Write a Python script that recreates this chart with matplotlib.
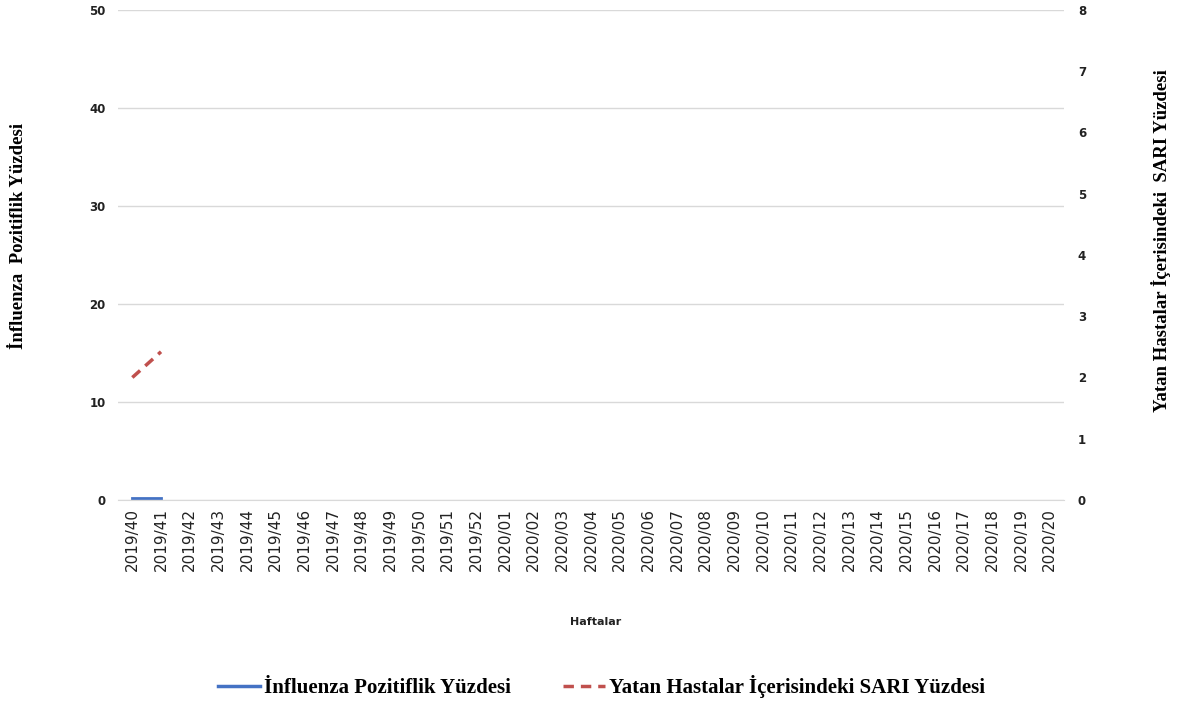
import matplotlib.pyplot as plt
from matplotlib.lines import Line2D

# haftalar
weeks = ['2019/%d' % w for w in range(40, 53)] + ['2020/%02d' % w for w in range(1, 21)]

# veriler (sadece ilk iki hafta mevcut)
influenza_pct = [0.2, 0.2]
sari_pct = [2.0, 2.42]

blue = '#4472C4'
red = '#C0504D'

fig = plt.figure(figsize=(11.8, 7.04), dpi=100)
ax = fig.add_axes([0.1, 0.2898, 0.8017, 0.696])
ax2 = ax.twinx()

x = list(range(len(weeks)))
ax.plot(x[:len(influenza_pct)], influenza_pct, color=blue, lw=2)
ax2.plot(x[:len(sari_pct)], sari_pct, color=red, lw=2.5, linestyle=(0, (3, 2)))

ax.set_xlim(-0.5, len(weeks) - 0.5)
ax.set_ylim(0, 50)
ax.set_yticks(range(0, 51, 10))
ax2.set_ylim(0, 8)
ax2.set_yticks(range(0, 9))

ax.set_xticks(x)
ax.set_xticklabels(weeks, rotation=90, fontsize=11, color='#222222')
ax.grid(axis='y', color='#d9d9d9', lw=1)
ax.set_axisbelow(True)

for a in (ax, ax2):
    for s in a.spines.values():
        s.set_visible(False)
    a.tick_params(length=0)
ax.spines['bottom'].set_visible(True)
ax.spines['bottom'].set_color('#d9d9d9')

for lab in ax.get_yticklabels() + ax2.get_yticklabels():
    lab.set_fontsize(8.5)
    lab.set_fontweight('bold')
    lab.set_color('#222222')
ax.tick_params(axis='y', pad=9)
ax2.tick_params(axis='y', pad=10)
ax.tick_params(axis='x', pad=6)

serif = {'family': 'Liberation Serif', 'weight': 'bold', 'size': 13.5}
fig.text(0.016, 0.665, 'İnfluenza  Pozitiflik Yüzdesi', rotation=90, ha='center', va='center', fontdict=serif)
fig.text(0.984, 0.658, 'Yatan Hastalar İçerisindeki  SARI Yüzdesi', rotation=90, ha='center', va='center', fontdict=serif)
fig.text(0.505, 0.117, 'Haftalar', ha='center', va='center', fontsize=8, fontweight='bold', color='#222222')

handles = [Line2D([], [], color=blue, lw=2.5),
           Line2D([], [], color=red, lw=2.5, linestyle=(0, (3, 2)))]
fig.legend(handles, ['İnfluenza Pozitiflik Yüzdesi', 'Yatan Hastalar İçerisindeki SARI Yüzdesi'],
           loc='center', bbox_to_anchor=(0.51, 0.025), ncol=2, frameon=False,
           prop={'family': 'Liberation Serif', 'weight': 'bold', 'size': 15},
           handlelength=2.0, handletextpad=0.2, columnspacing=2.5)

fig.savefig('out.png', dpi=100)
